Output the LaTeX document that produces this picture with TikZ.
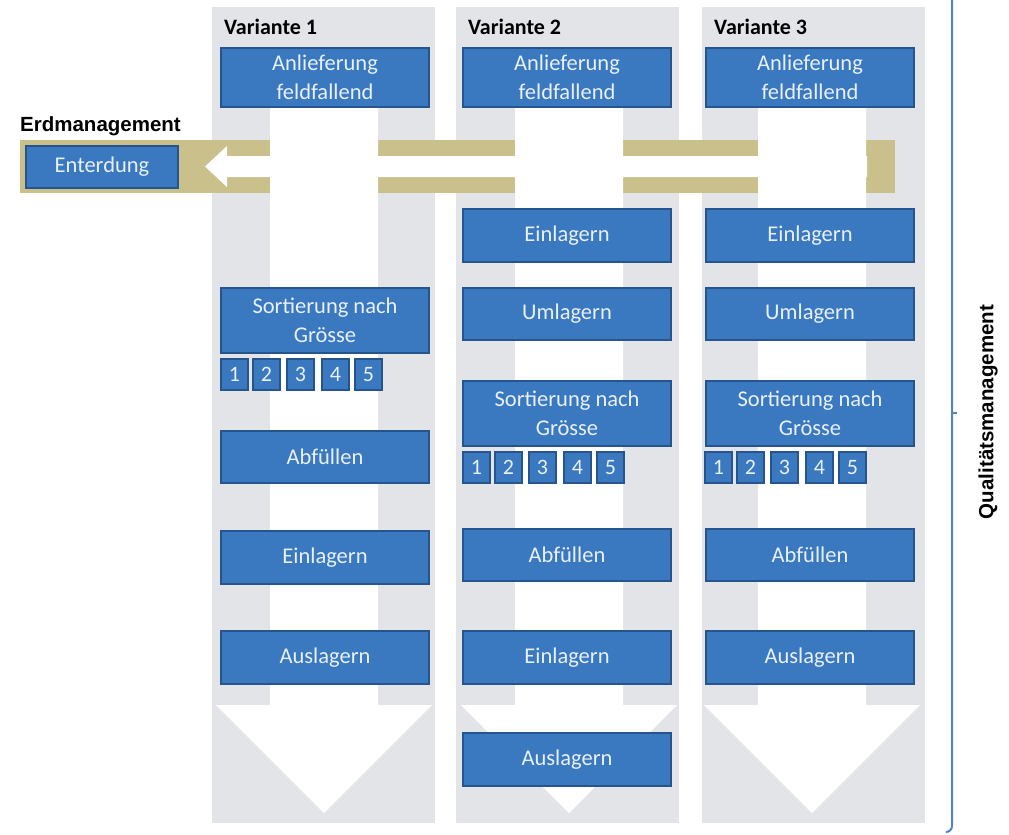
\documentclass[tikz,border=0pt]{standalone}
\usepackage{fontspec}
\setmainfont{Carlito}
\newfontfamily\arialfont{Liberation Sans}
\definecolor{boxblue}{RGB}{58,120,192}
\definecolor{boxborder}{RGB}{38,84,140}
\definecolor{boxtext}{RGB}{232,240,250}
\definecolor{colgrey}{RGB}{226,228,232}
\definecolor{tanband}{RGB}{201,192,140}
\definecolor{qline}{RGB}{80,132,198}
\tikzset{
  box/.style={draw=boxborder, fill=boxblue, line width=1.2pt, text=boxtext,
    font=\fontsize{22.5}{28.5}\selectfont, align=center, inner sep=0pt,
    minimum width=208pt},
  numbox/.style={draw=boxborder, fill=boxblue, line width=1.2pt, text=boxtext,
    font=\fontsize{22}{25}\selectfont, inner sep=0pt,
    minimum width=27pt, minimum height=31pt},
  varlabel/.style={anchor=base west, font=\bfseries\fontsize{22}{26}\selectfont, inner sep=0pt},
  sidelabel/.style={font=\arialfont\bfseries\fontsize{20.5}{24}\selectfont, inner sep=0pt}
}
\newcommand\numrow[3]{%
  \foreach \o/\n in {0/1,32/2,66/3,101/4,134/5}{%
    \node[numbox] (#1\n) at (#2+\o+13.5,#3) {\n};}}
\begin{document}
\begin{tikzpicture}[x=1pt,y=-1pt]
\useasboundingbox (0,0) rectangle (1009,835);
\fill[white] (0,0) rectangle (1009,835);
% grey columns
\fill[colgrey] (212,7) rectangle (435,823);
\fill[colgrey] (456,7) rectangle (679,823);
\fill[colgrey] (702,7) rectangle (925,823);
% tan band with white arrow
\fill[tanband] (20,140) rectangle (895,193);
\fill[white] (867,156) -- (227,156) -- (227,146) -- (205,166.5) -- (227,187) -- (227,177) -- (867,177) -- cycle;
% white down arrows
\foreach \c in {324,569,812}{
  \fill[white] (\c-54,107) -- (\c+54,107) -- (\c+54,705) -- (\c+108,705)
    -- (\c,813) -- (\c-108,705) -- (\c-54,705) -- cycle;}
% labels
\node[varlabel] (v1) at (224,34) {Variante 1};
\node[varlabel] (v2) at (468,34) {Variante 2};
\node[varlabel] (v3) at (714,34) {Variante 3};
\node[sidelabel, anchor=base west] (erd) at (20,131) {Erdmanagement};
\node[sidelabel, rotate=90] (qm) at (988,412) {Qualitätsmanagement};
% Enterdung
\node[box, minimum width=152pt, minimum height=42pt] (ent) at (102,167) {Enterdung};
% column 1
\node[box, minimum height=59pt] (anl1) at (325,77.5) {Anlieferung\\feldfallend};
\node[box, minimum height=65pt] (sort1) at (325,320.5) {Sortierung nach\\Grösse};
\numrow{n1}{221}{374.5}
\node[box, minimum height=52pt] (abf1) at (325,457) {Abfüllen};
\node[box, minimum height=53pt] (ein1) at (325,557.5) {Einlagern};
\node[box, minimum height=53pt] (aus1) at (325,657.5) {Auslagern};
% column 2
\node[box, minimum height=59pt] (anl2) at (567,77.5) {Anlieferung\\feldfallend};
\node[box, minimum height=53pt] (ein2a) at (567,235.5) {Einlagern};
\node[box, minimum height=52pt] (uml2) at (567,314) {Umlagern};
\node[box, minimum height=65pt] (sort2) at (567,413.5) {Sortierung nach\\Grösse};
\numrow{n2}{463}{467.5}
\node[box, minimum height=52pt] (abf2) at (567,555) {Abfüllen};
\node[box, minimum height=53pt] (ein2b) at (567,657.5) {Einlagern};
\node[box, minimum height=53pt] (aus2) at (567,759.5) {Auslagern};
% column 3
\node[box, minimum height=59pt] (anl3) at (810,77.5) {Anlieferung\\feldfallend};
\node[box, minimum height=53pt] (ein3) at (810,235.5) {Einlagern};
\node[box, minimum height=52pt] (uml3) at (810,314) {Umlagern};
\node[box, minimum height=65pt] (sort3) at (810,413.5) {Sortierung nach\\Grösse};
\numrow{n3}{705}{467.5}
\node[box, minimum height=52pt] (abf3) at (810,555) {Abfüllen};
\node[box, minimum height=53pt] (aus3) at (810,657.5) {Auslagern};
% quality bracket
\coordinate (qt) at (952,0);
\coordinate (qb) at (946,832);
\coordinate (qm1) at (952,413);
\coordinate (qm2) at (957,413);
\draw[qline, line width=2pt] (qt) -- (952,826) to[out=-90,in=0] (qb);
\draw[qline, line width=1.5pt] (qm1) -- (qm2);
\end{tikzpicture}
\end{document}
